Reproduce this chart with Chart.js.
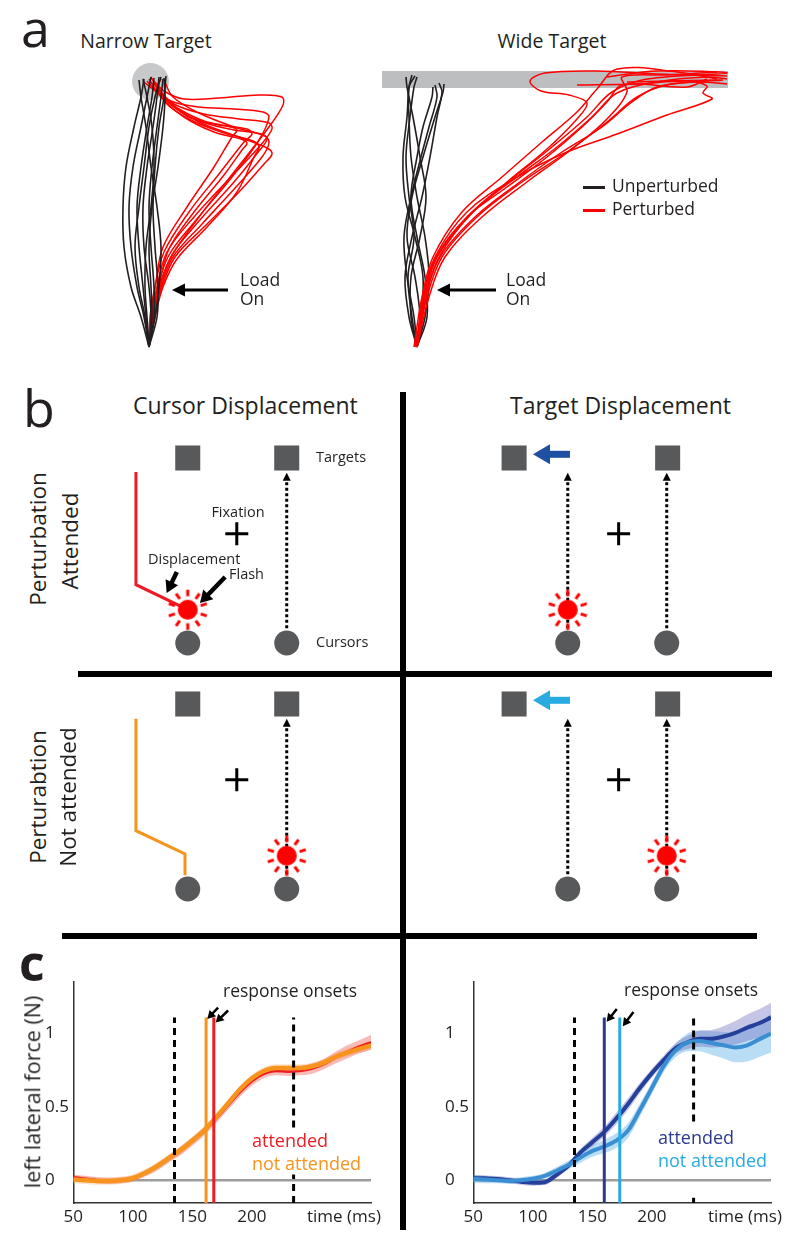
<!DOCTYPE html>
<html>
<head>
<meta charset="utf-8">
<script src="https://cdn.jsdelivr.net/npm/chart.js@4.4.1/dist/chart.umd.min.js"></script>
<style>
body { margin: 0; background: #fff; font-family: 'Open Sans', sans-serif; color: #231f20; }
#fig { position: relative; width: 800px; height: 1249px; overflow: hidden; }
canvas, .t, .rule { position: absolute; }
.t { white-space: nowrap; line-height: 1; }
.rule { background: #000; }
</style>
</head>
<body>
<div id="fig">
  <canvas id="narrow" width="240" height="310" style="left:95px;top:55px"></canvas>
  <canvas id="wide" width="370" height="310" style="left:375px;top:55px"></canvas>
  <canvas id="qTL" width="296" height="250" style="left:86px;top:421px"></canvas>
  <canvas id="qTR" width="296" height="250" style="left:466px;top:421px"></canvas>
  <canvas id="qBL" width="296" height="250" style="left:86px;top:667px"></canvas>
  <canvas id="qBR" width="296" height="250" style="left:466px;top:667px"></canvas>
  <canvas id="forceL" width="328" height="265" style="left:45px;top:968px"></canvas>
  <canvas id="forceR" width="328" height="265" style="left:445px;top:968px"></canvas>
</div>
<script>
// ---------- panel a: hand paths (units ~1 cm, start of reach at 0,0) ----------
const narrowUnperturbed = [
  [[0,0],[-0.8,3],[-1.8,6],[-2.5,10],[-2.6,14],[-2.3,18],[-1.5,22],[-0.8,25],[-0.5,26.8]],
  [[0,0],[-0.5,3],[-1.2,6],[-1.8,10],[-2.0,14],[-1.6,18],[-0.8,22],[-0.2,25],[0.2,27]],
  [[0,0],[-0.3,3],[-0.6,6],[-1.0,10],[-1.2,14],[-0.8,18],[-0.2,22],[0.3,25],[0.5,26.9]],
  [[0,0],[0.2,3],[0.0,6],[-0.5,10],[-0.6,14],[-0.2,18],[0.4,22],[0.8,25],[1.0,27]],
  [[0,0],[0.5,3],[0.5,6],[0.2,10],[0.0,14],[0.3,18],[0.8,22],[1.2,25],[1.4,26.8]],
  [[0,0],[0.8,3],[0.9,6],[0.6,10],[0.4,14],[0.6,18],[1.0,22],[1.5,25],[1.7,27.1]],
  [[0,0],[0.3,3],[0.2,6],[0.0,10],[0.3,14],[0.9,18],[1.4,22],[1.6,25],[1.5,26.9]],
  [[0,0],[-0.2,3],[-0.4,6],[-0.3,10],[0.2,14],[0.5,18],[0.3,22],[-0.2,25],[-0.6,26.8]],
  [[0,0],[0.6,3],[1.0,6],[1.2,10],[0.8,14],[0.2,18],[-0.3,22],[-0.8,25],[-1.0,26.7]],
  [[0,0],[-0.4,3],[-1.0,6],[-1.4,10],[-1.0,14],[-0.5,18],[0.0,22],[0.6,25],[1.2,27]]
];
const narrowPerturbed = [
  [[0,0],[0.4,3],[1.0,6],[2.2,9],[5,13],[8.5,17.5],[12,22],[13.4,24.2],[13.3,25.0],[11,25.2],[7,24.9],[3.5,24.8],[1.5,25.6],[0.3,26.8]],
  [[0,0],[0.2,3],[0.8,6],[1.8,9.5],[4.5,13],[8,16.8],[11,20],[12.3,21.8],[12.0,22.4],[9,22.8],[5.5,23.3],[2.5,24.3],[0.8,26],[0.2,27]],
  [[0,0],[0.5,3],[1.3,6],[2.6,9],[5.5,12],[9,15.5],[11.5,18.3],[12.3,19.3],[11.8,19.9],[9,21],[5,22.5],[2,24.5],[0.6,26.2]],
  [[0,0],[0.3,3],[1.1,6],[2.3,9.2],[5,12.6],[8.5,16.5],[11,19.6],[11.8,20.8],[11.2,21.3],[8,21.8],[4.5,22.8],[1.8,24.6],[0.4,26.5]],
  [[0,0],[0.1,3],[0.6,6],[1.5,9.5],[4,13.5],[7,17.3],[9.5,20.5],[10.3,21.3],[9.8,21.8],[7,22.2],[4,23],[1.5,24.8],[-0.2,26.6]],
  [[0,0],[0.4,3],[1.0,6.2],[2.0,9.8],[4.5,13.5],[7.5,17.2],[9.3,19.7],[9.8,20.4],[9.2,20.8],[6.5,21.5],[3.5,23],[1.2,25],[0,26.8]],
  [[0,0],[0.2,3],[0.7,6.5],[1.4,10],[3.8,14],[6.5,18],[8.3,21],[8.8,21.7],[8.2,22],[5.5,22.6],[3,23.8],[1,25.3],[-0.5,26.5]],
  [[0,0],[0.6,3],[1.4,6],[2.8,8.8],[5.8,12],[8.8,15.5],[10.6,19.2],[11.0,20.0],[10.4,20.6],[7.5,21.4],[4,22.8],[1.6,24.5],[0.9,26.4]],
  [[0,0],[0.3,3],[0.9,6],[2.0,9.2],[4.8,12.8],[8.3,17],[11,20.7],[12.0,23],[11.4,23.5],[8.5,23.8],[5,24],[2.2,24.6],[0.8,25.8],[1.2,26.8]],
  [[0,0],[0.5,3],[1.2,6],[2.4,9],[5.3,12.3],[8.7,16],[11.3,19],[12.0,20.4],[11.6,21.1],[8.5,22],[5,23.4],[2.4,25],[1.5,26.7]]
];
const wideUnperturbed = [
  [[0,0],[-0.8,3],[-1.2,7],[-0.5,11],[0.5,15],[1.3,19],[2.0,23],[2.5,25.5],[2.2,26.4]],
  [[0,0],[-0.3,3],[-1.0,7],[-1.3,11],[-0.6,15],[0.4,19],[1.2,22],[2.0,25],[1.8,26.2]],
  [[0,0],[0.4,3],[0.6,7],[-0.2,11],[-1.2,15],[-1.4,19],[-1.0,23],[-0.8,26],[-0.5,27.2]],
  [[0,0],[-0.5,3],[-0.9,7],[-0.3,11],[-0.8,15],[-1.1,19],[-0.7,23],[-0.3,26],[0.0,27]],
  [[0,0],[0.8,3],[1.2,7],[0.8,11],[0.0,15],[-0.6,19],[-0.8,23],[-0.8,26],[-0.2,27.1]],
  [[0,0],[0.3,3],[-0.2,7],[-1.0,11],[-0.5,15],[0.6,19],[1.8,23],[2.6,25.5],[2.7,26.3]],
  [[0,0],[1.0,3],[0.8,7],[0.0,11],[-0.6,15],[0.0,19],[0.6,22],[1.5,25],[1.6,26]],
  [[0,0],[-0.6,3],[-0.6,7],[0.3,11],[0.9,15],[0.3,19],[-0.4,23],[-1.0,26],[-1.1,27]]
];
const widePerturbed = [
  [[0,0],[0.8,5],[2,9],[5,13],[9,16.5],[13,19.8],[16,22.8],[17,24.4],[15.2,25.2],[12.4,25.6],[11.3,26.6],[12.8,27.4],[18,27.6],[24,27.3],[31,27.1]],
  [[0,0],[0.6,5],[1.8,9],[5,13.5],[10,17],[15,19.5],[20,21.3],[25,23.2],[29.5,24.8],[28.6,25.4],[29,26.1],[27,26.6],[22,26.3],[16,26.2]],
  [[0,0],[0.9,5],[2.2,9],[5.6,13.5],[10,17],[14,20],[17.5,23],[20,25.4],[24,26.5],[29,27],[31,26.8]],
  [[-0.3,0],[0.5,5],[1.6,9],[4.5,13.5],[8.5,17],[12.5,20.5],[16,23.5],[18,25.8],[20,27.8],[26,27.5],[30,26.8]],
  [[0,0],[1,5],[2.5,9],[6,13],[10.5,16.5],[15,19.5],[19,22.5],[22,25],[25,26.2],[30.5,26.7],[21,26.5]],
  [[0,0],[0.7,5],[2,9],[5.3,13.2],[9.5,16.8],[13.5,20],[17,23],[19.5,25.5],[23,26.8],[31,27.4],[24,27.6],[19,27]],
  [[-0.2,0],[0.8,5],[2.3,9],[5.8,13],[10,16.3],[14.5,19.5],[18.5,22],[21.5,24.5],[24,26],[28,26.5],[31,26.3]],
  [[0,0],[1.2,5],[2.8,9],[6.5,13],[11,16.5],[15.5,19.8],[19,22.8],[21,25.5],[20.5,27],[25,27.2],[30,27.5]],
  [[0,0],[0.6,5],[1.9,9],[5,13],[9,16],[13,19],[16.5,22],[19,24.5],[20.5,26.2],[27,26],[29,26.8]]
];
const narrowTarget = [0.15, 26.55];
const wideTarget = [[-3.5, 26.75], [31.1, 26.75]];
const narrowLoadArrow = [[7.9, 5.7], [2.3, 5.7]];
const wideLoadArrow = [[7.9, 5.7], [2.0, 5.7]];

// ---------- panel b: schematic (cursor row y=0, target row y=10) ----------
const cursorsX = [0, 5.35];
const targetsX = [0, 5.35];
const shiftedTargetsX = [-2.9, 5.4];
const targetRowY = 10;
const fixationCursorCond = [2.65, 5.9];
const fixationTargetCond = [2.75, 5.9];
const flashY = 1.8;
const redCursorPath = [[-2.8, 9.25], [-2.8, 3.15], [0, 1.8]];
const orangeCursorPath = [[-2.8, 9.2], [-2.8, 3.15], [-0.15, 1.9], [-0.15, 0.75]];
const reachSpan = [0.8, 9.2];
const targetJump = [[0.12, 10.2], [-1.88, 10.2]];
const displacementPointer = [[-0.59, 3.84], [-1.14, 2.7]];
const flashPointer = [[2.02, 3.57], [0.66, 2.16]];

// ---------- panel c: left lateral force (N) ----------
const timeMs = [50,60,70,80,90,100,110,120,130,140,150,160,170,180,190,200,210,220,230,240,250,260,270,280,290,300];
const cursorAttended = [0.02,0.01,0.0,-0.005,0.0,0.012,0.045,0.09,0.145,0.2,0.265,0.335,0.42,0.51,0.6,0.675,0.725,0.745,0.74,0.745,0.76,0.79,0.835,0.875,0.91,0.94];
const cursorAttendedSem = [0.02,0.02,0.02,0.02,0.02,0.02,0.02,0.025,0.025,0.03,0.03,0.03,0.03,0.03,0.03,0.03,0.03,0.03,0.03,0.03,0.035,0.035,0.04,0.045,0.045,0.05];
const cursorNotAttended = [0.005,0.0,-0.005,-0.005,0.0,0.015,0.05,0.095,0.15,0.205,0.27,0.34,0.43,0.525,0.62,0.695,0.745,0.765,0.765,0.765,0.775,0.8,0.84,0.87,0.895,0.92];
const cursorNotAttendedSem = [0.025,0.025,0.025,0.025,0.025,0.025,0.025,0.025,0.025,0.025,0.025,0.025,0.025,0.025,0.025,0.025,0.025,0.025,0.025,0.025,0.025,0.025,0.025,0.025,0.03,0.03];
const targetAttended = [0.015,0.013,0.009,0.0,-0.01,-0.017,-0.013,0.037,0.1,0.19,0.26,0.33,0.42,0.52,0.63,0.73,0.82,0.9,0.94,0.965,0.965,0.98,1.005,1.04,1.07,1.11];
const targetAttendedSem = [0.02,0.02,0.02,0.02,0.02,0.02,0.02,0.02,0.02,0.025,0.03,0.035,0.04,0.04,0.035,0.03,0.03,0.035,0.045,0.055,0.06,0.07,0.08,0.09,0.095,0.1];
const targetNotAttended = [0.01,0.005,0.0,-0.005,0.0,0.01,0.03,0.065,0.105,0.155,0.2,0.23,0.27,0.34,0.48,0.63,0.78,0.885,0.94,0.95,0.935,0.92,0.905,0.92,0.96,1.0];
const targetNotAttendedSem = [0.025,0.025,0.02,0.02,0.02,0.02,0.02,0.025,0.03,0.035,0.04,0.045,0.05,0.05,0.045,0.04,0.04,0.045,0.06,0.07,0.08,0.09,0.1,0.11,0.12,0.13];
const windowMs = [135, 235];
const cursorOnsets = [161.5, 168];   // not attended, attended
const targetOnsets = [160, 173];     // attended, not attended
const onsetTop = 1.11;
const dashGapCursor = [0.04, 0.36];
const dashGapTarget = [-0.12, 0.4];
const cursorOnsetArrows = [[[171.6, 1.176], [162.5, 1.1]], [[180, 1.157], [169.5, 1.075]]];
const targetOnsetArrows = [[[170.5, 1.168], [162, 1.08]], [[184.5, 1.147], [175.5, 1.05]]];
const xTicks = [50, 100, 150, 200, 250];
const yTicks = [0, 0.5, 1];

Chart.defaults.font.family = "'Open Sans', sans-serif";
Chart.defaults.color = '#231f20';

const INK = '#231f20';
const fig = document.getElementById('fig');

// text helpers (y = baseline)
function addText(txt, x, y, size, opt = {}) {
    const d = document.createElement('div');
    d.className = 't';
    d.textContent = txt;
    d.style.fontSize = size + 'px';
    d.style.left = x + 'px';
    d.style.top = (y - 0.888 * size) + 'px';
    d.style.color = opt.color || INK;
    if (opt.bold) d.style.fontWeight = 'bold';
    if (opt.center) d.style.transform = 'translateX(-50%)';
    fig.appendChild(d);
}
function addVText(txt, cx, cy, size) {
    const d = document.createElement('div');
    d.className = 't';
    d.textContent = txt;
    d.style.fontSize = size + 'px';
    d.style.left = cx + 'px';
    d.style.top = cy + 'px';
    d.style.transform = 'translate(-50%,-50%) rotate(-90deg)';
    fig.appendChild(d);
}
function addRule(x, y, w, h, color) {
    const d = document.createElement('div');
    d.className = 'rule';
    Object.assign(d.style, { left: x + 'px', top: y + 'px', width: w + 'px', height: h + 'px' });
    if (color) d.style.background = color;
    fig.appendChild(d);
}

// arrowheads: shorten the shaft, then draw a filled head at the last point
const arrowTips = {
    id: 'arrowTips',
    beforeDatasetDraw(chart, args) {
        const ds = chart.data.datasets[args.index];
        if (!ds.head) return;
        const pts = args.meta.data, n = pts.length;
        const a = pts[n - 2], b = pts[n - 1];
        const ang = Math.atan2(b.y - a.y, b.x - a.x);
        b.$tip = { x: b.x, y: b.y, ang: ang };
        b.x -= Math.cos(ang) * ds.head[0] * 0.85;
        b.y -= Math.sin(ang) * ds.head[0] * 0.85;
        args.meta.dataset._path = undefined;
    },
    afterDatasetDraw(chart, args) {
        const ds = chart.data.datasets[args.index];
        if (!ds.head) return;
        const pts = args.meta.data, b = pts[pts.length - 1], t = b.$tip;
        b.x = t.x; b.y = t.y;
        args.meta.dataset._path = undefined;
        const ctx = chart.ctx;
        ctx.save();
        ctx.translate(t.x, t.y);
        ctx.rotate(t.ang);
        ctx.beginPath();
        ctx.moveTo(0, 0);
        ctx.lineTo(-ds.head[0], ds.head[1] / 2);
        ctx.lineTo(-ds.head[0], -ds.head[1] / 2);
        ctx.closePath();
        ctx.fillStyle = ds.borderColor;
        ctx.fill();
        ctx.restore();
    }
};

const pts = arr => arr.map(p => ({ x: p[0], y: p[1] }));

function arrowSet(data, color, width, head, order, dash) {
    return { data: pts(data), showLine: true, borderColor: color, borderWidth: width,
             borderDash: dash || [], pointRadius: 0, head: head, order: order, borderCapStyle: 'butt' };
}

// fixed-scale canvas chart, no visible axes
function blankChart(id, xr, yr, datasets) {
    return new Chart(document.getElementById(id), {
        type: 'scatter',
        data: { datasets: datasets },
        options: {
            responsive: false, animation: false, events: [],
            layout: { padding: 0, autoPadding: false },
            plugins: { legend: { display: false }, tooltip: { enabled: false } },
            scales: {
                x: { type: 'linear', min: xr[0], max: xr[1], display: false },
                y: { type: 'linear', min: yr[0], max: yr[1], display: false }
            }
        },
        plugins: [arrowTips]
    });
}

// ---------- panel a ----------
function pathSets(paths, color, width, order) {
    return paths.map(p => ({ data: pts(p), showLine: true, borderColor: color, borderWidth: width,
                             pointRadius: 0, tension: 0.35, order: order }));
}
blankChart('narrow', [-5.4, 18.6], [-1.8, 29.2], [
    ...pathSets(narrowUnperturbed, INK, 1.6, 1),
    ...pathSets(narrowPerturbed, '#ff0000', 1.5, 2),
    { data: pts([narrowTarget]), pointRadius: 18.5, pointBackgroundColor: '#c7c8ca', pointBorderWidth: 0, order: 9 },
    arrowSet(narrowLoadArrow, '#000', 3, [13, 13], 0)
]);
blankChart('wide', [-4.2, 32.8], [-1.8, 29.2], [
    ...pathSets(wideUnperturbed, INK, 1.6, 2),
    ...pathSets(widePerturbed, '#ff0000', 1.5, 1),
    { data: pts(wideTarget), showLine: true, borderColor: '#bcbec0', borderWidth: 17,
      borderCapStyle: 'butt', pointRadius: 0, order: 9 },
    arrowSet(wideLoadArrow, '#000', 3, [13, 13], 0)
]);

// ---------- panel b ----------
const flashMark = document.createElement('canvas');
flashMark.width = 44; flashMark.height = 44;
(function () {
    const g = flashMark.getContext('2d');
    g.fillStyle = '#ff0000'; g.strokeStyle = '#ff0000'; g.lineWidth = 3;
    g.beginPath(); g.arc(22, 22, 10, 0, Math.PI * 2); g.fill();
    for (let k = 0; k < 10; k++) {
        const a = (18 + 36 * k) * Math.PI / 180;
        g.beginPath();
        g.moveTo(22 + Math.cos(a) * 13.5, 22 + Math.sin(a) * 13.5);
        g.lineTo(22 + Math.cos(a) * 20, 22 + Math.sin(a) * 20);
        g.stroke();
    }
})();

const GREY = '#58595b';
function quadrant(id, q) {
    const sets = [
        { data: q.targets.map(x => ({ x: x, y: targetRowY })), pointStyle: 'rect', pointRadius: 17.7,
          pointBackgroundColor: GREY, pointBorderWidth: 0, order: 5 },
        { data: cursorsX.map(x => ({ x: x, y: 0 })), pointStyle: 'circle', pointRadius: 12.5,
          pointBackgroundColor: GREY, pointBorderWidth: 0, order: 5 },
        { data: pts([q.fixation]), pointStyle: 'cross', pointRadius: 11.5, pointBorderColor: '#000',
          pointBorderWidth: 3, order: 5 },
        { data: [{ x: cursorsX[q.flash], y: flashY }], pointStyle: flashMark, pointRadius: 20, order: 1 }
    ];
    q.reaches.forEach(i => sets.push(arrowSet([[cursorsX[i], reachSpan[0]], [cursorsX[i], reachSpan[1]]],
                                              '#000', 3, [8, 8], 3, [3, 2.5])));
    if (q.path) sets.push({ data: pts(q.path.xy), showLine: true, borderColor: q.path.color, borderWidth: 3,
                            pointRadius: 0, order: 4, borderJoinStyle: 'miter' });
    if (q.jump) sets.push(arrowSet(targetJump, q.jump, 7, [17, 20], 2));
    (q.pointers || []).forEach(p => sets.push(arrowSet(p, '#000', 4.5, [12, 14], 0)));
    blankChart(id, [-5.5, 10.5], [12 - 250 / 18.5, 12], sets);
}
quadrant('qTL', { targets: targetsX, fixation: fixationCursorCond, flash: 0, reaches: [1],
                  path: { xy: redCursorPath, color: '#ed1c24' }, pointers: [displacementPointer, flashPointer] });
quadrant('qBL', { targets: targetsX, fixation: fixationCursorCond, flash: 1, reaches: [1],
                  path: { xy: orangeCursorPath, color: '#f7941d' } });
quadrant('qTR', { targets: shiftedTargetsX, fixation: fixationTargetCond, flash: 0, reaches: [0, 1], jump: '#1e4fa0' });
quadrant('qBR', { targets: shiftedTargetsX, fixation: fixationTargetCond, flash: 1, reaches: [0, 1], jump: '#29abe2' });

// ---------- panel c ----------
function series(vals) { return timeMs.map((t, i) => ({ x: t, y: vals[i] })); }
function band(mean, sem, sign) { return timeMs.map((t, i) => ({ x: t, y: mean[i] + sign * sem[i] })); }
function vline(x, y0, y1) { return [{ x: x, y: y0 }, { x: x, y: y1 }]; }

function forcePanel(id, s, onsets, onsetColors, gap, arrows) {
    const yMin = -0.155;
    const sets = [];
    s.forEach((c, k) => {
        sets.push({ data: band(c.mean, c.sem, 1), borderWidth: 0, pointRadius: 0, fill: '+1',
                    backgroundColor: c.band, cubicInterpolationMode: 'monotone', order: 8 + k });
        sets.push({ data: band(c.mean, c.sem, -1), borderWidth: 0, pointRadius: 0, fill: false,
                    cubicInterpolationMode: 'monotone', order: 8 + k });
    });
    sets.push({ data: [{ x: timeMs[0], y: 0 }, { x: timeMs[timeMs.length - 1], y: 0 }], borderColor: '#9d9d9d',
                borderWidth: 2.5, pointRadius: 0, order: 12 });
    s.forEach((c, k) => sets.push({ data: series(c.mean), borderColor: c.line, borderWidth: c.width,
                                    pointRadius: 0, cubicInterpolationMode: 'monotone', order: 6 - k }));
    onsets.forEach((t, k) => sets.push({ data: vline(t, yMin, onsetTop), borderColor: onsetColors[k],
                                         borderWidth: 3, pointRadius: 0, order: 3 }));
    sets.push({ data: vline(windowMs[0], yMin, onsetTop), borderColor: '#000', borderWidth: 3,
                borderDash: [7, 5], pointRadius: 0, order: 2 });
    sets.push({ data: [{ x: windowMs[1], y: yMin }, { x: windowMs[1], y: gap[0] }, { x: windowMs[1], y: null },
                       { x: windowMs[1], y: gap[1] }, { x: windowMs[1], y: onsetTop }],
                borderColor: '#000', borderWidth: 3, borderDash: [7, 5], pointRadius: 0, spanGaps: false, order: 2 });
    arrows.forEach(a => sets.push(arrowSet(a, '#000', 2.5, [8, 9], 0)));

    new Chart(document.getElementById(id), {
        type: 'line',
        data: { datasets: sets },
        options: {
            responsive: false, animation: false, events: [],
            layout: { padding: { top: 2, right: 2, left: 0, bottom: 0 }, autoPadding: false },
            plugins: { legend: { display: false }, tooltip: { enabled: false } },
            scales: {
                x: {
                    type: 'linear', min: 50, max: 300,
                    afterBuildTicks: sc => { sc.ticks = xTicks.map(v => ({ value: v })); },
                    afterFit: sc => { sc.height = 30; },
                    ticks: { callback: v => (v === 250 ? '' : String(v)), font: { size: 17 }, color: INK,
                             padding: 4, maxRotation: 0, autoSkip: false },
                    grid: { display: false, drawTicks: false },
                    border: { display: true, color: '#333', width: 1.5 }
                },
                y: {
                    type: 'linear', min: yMin, max: 1.35,
                    afterBuildTicks: sc => { sc.ticks = yTicks.map(v => ({ value: v })); },
                    afterFit: sc => { sc.width = 28.3; },
                    ticks: { callback: v => String(v), crossAlign: 'far', font: { size: 17 }, color: INK, padding: 4 },
                    grid: { display: false, drawTicks: false },
                    border: { display: true, color: '#333', width: 1.5 }
                }
            }
        },
        plugins: [arrowTips]
    });
}

forcePanel('forceL', [
    { mean: cursorAttended, sem: cursorAttendedSem, line: '#ed1c24', band: 'rgba(237,60,50,0.35)', width: 2.5 },
    { mean: cursorNotAttended, sem: cursorNotAttendedSem, line: '#f7941d', band: 'rgba(250,190,130,0.45)', width: 4.5 }
], cursorOnsets, ['#f7941d', '#ed1c24'], dashGapCursor, cursorOnsetArrows);

forcePanel('forceR', [
    { mean: targetAttended, sem: targetAttendedSem, line: '#24409a', band: 'rgba(110,110,190,0.4)', width: 4 },
    { mean: targetNotAttended, sem: targetNotAttendedSem, line: '#3a8fd3', band: 'rgba(80,170,230,0.4)', width: 4 }
], targetOnsets, ['#2b3990', '#29abe2'], dashGapTarget, targetOnsetArrows);

// ---------- text and layout rules ----------
addText('a', 21, 47, 52);
addText('Narrow Target', 146, 48, 19.5, { center: true });
addText('Wide Target', 552, 48, 19.5, { center: true });
addText('Load', 240, 287, 17.5); addText('On', 240, 306, 17.5);
addText('Load', 506, 287, 17.5); addText('On', 506, 306, 17.5);
addRule(583, 185.5, 22, 3, INK);
addRule(583, 208.5, 22, 3, '#ff0000');
addText('Unperturbed', 612, 193, 17.5);
addText('Perturbed', 612, 216, 17.5);

addText('b', 23, 427, 52);
addText('Cursor Displacement', 133, 414, 23);
addText('Target Displacement', 510, 414, 23);
addVText('Perturbation', 38, 539, 22.5);
addVText('Attended', 70, 541, 22.5);
addVText('Perturabtion', 38, 797, 22.5);
addVText('Not attended', 68, 797, 22.5);
addText('Targets', 316, 463, 14.5);
addText('Cursors', 316, 648, 14.5);
addText('Fixation', 238, 518, 14.5, { center: true });
addText('Displacement', 148, 565, 14.5);
addText('Flash', 229, 580, 14.5);
addRule(78, 670.5, 694, 6);
addRule(62, 932.5, 695, 6);
addRule(400, 392, 6, 838);

addText('c', 19, 981, 50, { bold: true });
addVText('left lateral force (N)', 32, 1092, 21.5);
addText('response onsets', 223, 998, 17.5);
addText('response onsets', 624, 997, 17.5);
addText('attended', 252, 1147, 18, { color: '#ed1c24' });
addText('not attended', 252, 1170, 18, { color: '#f7941d' });
addText('attended', 658, 1144, 18, { color: '#2b3990' });
addText('not attended', 658, 1167, 18, { color: '#29abe2' });
addText('time (ms)', 307, 1222, 17);
addText('time (ms)', 708, 1222, 17);
</script>
</body>
</html>
